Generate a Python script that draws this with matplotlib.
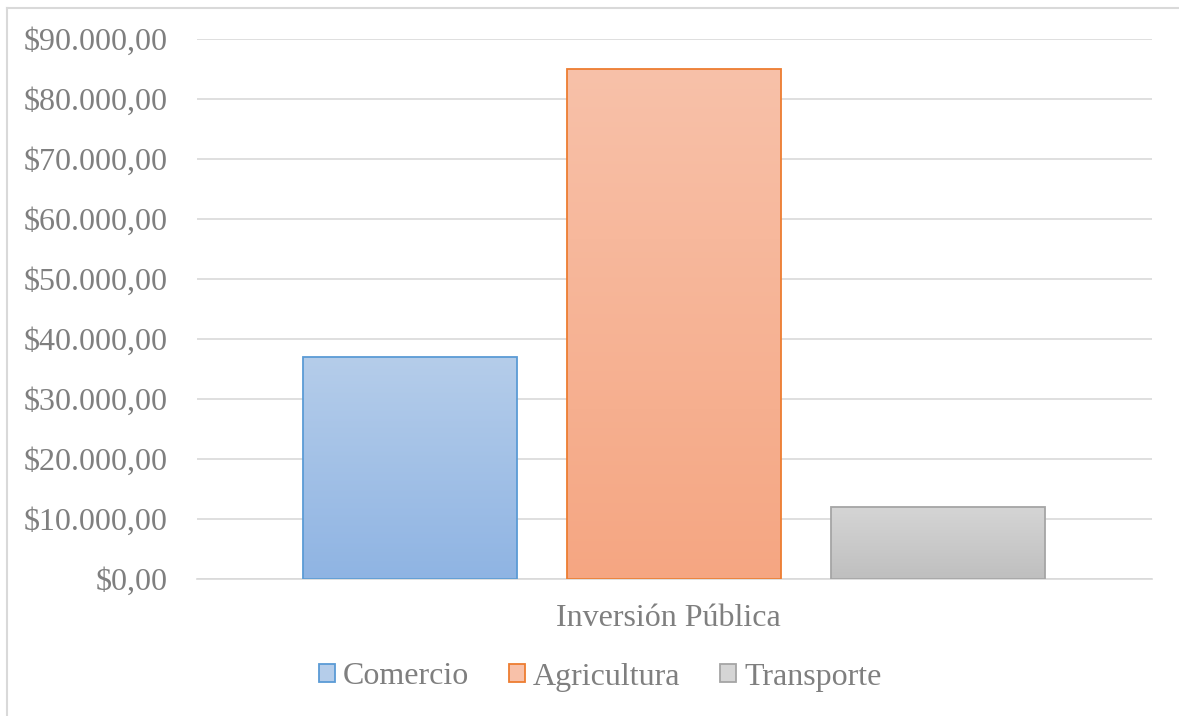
import matplotlib
matplotlib.use("Agg")
import matplotlib.pyplot as plt
import numpy as np
from matplotlib.patches import Rectangle
from matplotlib.lines import Line2D
from matplotlib.colors import LinearSegmentedColormap

series = ["Comercio", "Agricultura", "Transporte"]
values = [37000, 85000, 12000]
category = "Inversión Pública"
yticks = [0, 10000, 20000, 30000, 40000, 50000, 60000, 70000, 80000, 90000]

top_cols = ["#b5cdea", "#f8c1a9", "#d5d5d5"]
bot_cols = ["#8fb4e3", "#f5a682", "#bfbfbf"]
edge_cols = ["#5b9bd5", "#ed7d31", "#a5a5a5"]

plt.rcParams['font.family'] = ['Liberation Serif', 'DejaVu Serif']
txt = "#7f7f7f"
W, H = 1179, 716

fig = plt.figure(figsize=(11.79, 7.16), dpi=100)
# outer frame: only left and top edges visible
fig.lines.append(Line2D([7/W, 7/W], [0, 1 - 7.5/H], transform=fig.transFigure,
                        color="#d9d9d9", linewidth=1.5))
fig.lines.append(Line2D([7/W, 1], [1 - 7.5/H, 1 - 7.5/H], transform=fig.transFigure,
                        color="#d9d9d9", linewidth=1.5))
ax = fig.add_axes([197/W, 137/H, 955/W, 540/H])

x = np.arange(len(series))
bars = ax.bar(x, values, width=0.81, color="none", edgecolor=edge_cols, linewidth=1.3, zorder=3)
for b, tc, bc in zip(bars, top_cols, bot_cols):
    cmap = LinearSegmentedColormap.from_list("g", [bc, tc])
    grad = np.linspace(0, 1, 256).reshape(-1, 1)
    x0, y0 = b.get_x(), b.get_y()
    w, h = b.get_width(), b.get_height()
    im = ax.imshow(grad, cmap=cmap, aspect="auto", origin="lower",
                   extent=[x0, x0 + w, y0, y0 + h], zorder=2)
    im.set_clip_path(b)

ax.set_xlim(-0.805, 2.81)
ax.set_ylim(0, 90000)
ax.set_yticks(yticks)
ax.set_yticklabels(["${:,.2f}".format(v).replace(",", "X").replace(".", ",").replace("X", ".") for v in yticks],
                   fontsize=23, color=txt)
ax.set_xticks([0.98])
ax.set_xticklabels([category], fontsize=23, color=txt)
ax.tick_params(axis='both', length=0)
ax.tick_params(axis='y', pad=21)
ax.tick_params(axis='x', pad=18)
ax.grid(axis='y', color="#d9d9d9", linewidth=1.2, zorder=0)
ax.set_axisbelow(True)
for s in ["top", "right", "left"]:
    ax.spines[s].set_visible(False)
ax.spines["bottom"].set_color("#d9d9d9")
ax.spines["bottom"].set_linewidth(1.2)

handles = [Rectangle((0, 0), 1, 1, facecolor=tc, edgecolor=ec, linewidth=1.3)
           for tc, ec in zip(top_cols, edge_cols)]
leg = fig.legend(handles, series, loc="center", bbox_to_anchor=(600/W, 1 - 677/H), ncol=3,
                 frameon=False, fontsize=23, handlelength=0.5, handleheight=0.5,
                 handletextpad=0.25, columnspacing=1.25)
for t in leg.get_texts():
    t.set_color(txt)

fig.savefig("out.png", dpi=100)
